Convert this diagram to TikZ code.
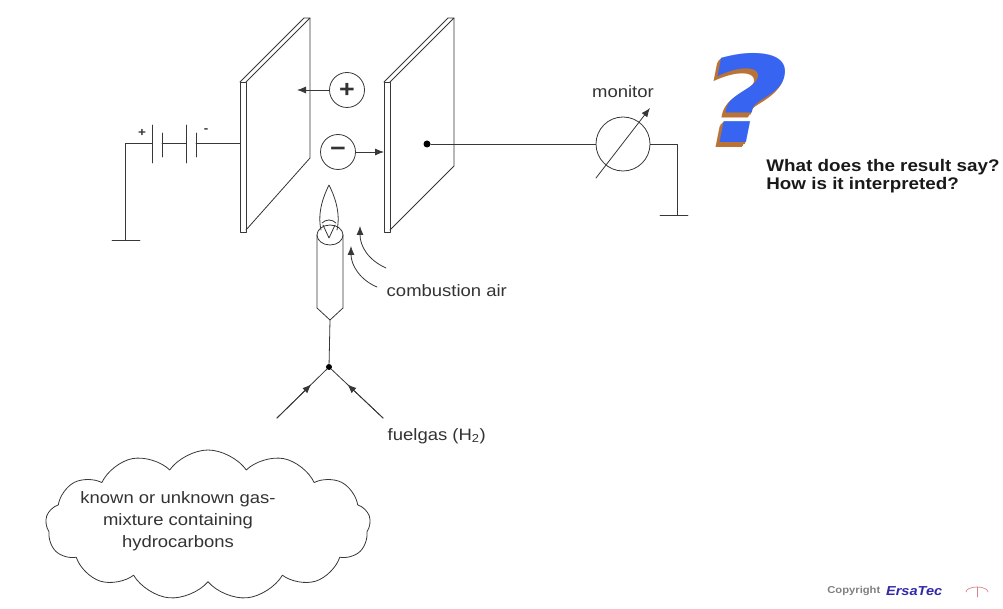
\documentclass[tikz,border=0pt]{standalone}
\usepackage{fontspec}
\setmainfont{Liberation Sans}[FakeStretch=1.12]
\newfontfamily\qfont{DejaVu Sans}[FakeSlant=0.2,FakeStretch=1.25]
\usetikzlibrary{shapes.symbols,calc,arrows.meta}

\definecolor{wire}{RGB}{55,55,55}
\definecolor{qblue}{RGB}{55,100,240}
\definecolor{qbrown}{RGB}{185,115,55}
\definecolor{ersa}{RGB}{50,40,170}
\definecolor{logo}{RGB}{215,130,140}

\tikzset{
  ionball/.style={draw,circle,minimum size=35pt,inner sep=0pt,
    font=\bfseries\fontsize{24}{24}\selectfont},
  dot/.style={circle,fill,inner sep=0pt,minimum size=7pt},
  qmark/.style={inner sep=0pt,font=\qfont\bfseries\fontsize{120}{120}\selectfont}
}

\begin{document}
\begin{tikzpicture}[x=1pt,y=-1pt,line width=.8pt,>={Latex[length=9pt,width=7pt]},
  draw=wire,text=black!80,line cap=round,line join=round,
  font=\fontsize{16.5}{22}\selectfont]
  \useasboundingbox (0,0) rectangle (1003,609);

  % the two plates
  \foreach \dx/\yb in {0/158,144/166} {
    \begin{scope}[shift={(\dx,0)}]
      \draw (240,82) rectangle (246,232);
      \draw (240,82)--(304,18)--(310,18)--(246,82);
      \draw (310,18)--(310,\yb)--(246,230);
    \end{scope}
  }

  % battery and ground
  \coordinate (gndL) at (125,240);
  \coordinate (batL) at (152,143);
  \draw (gndL) |- (batL);
  \draw (112,240)--(140,240);
  \foreach \bx in {152,186} {
    \draw (\bx,125)--(\bx,163);
    \draw (\bx+10,133)--(\bx+10,157);
  }
  \draw (162,143)--(186,143);
  \draw (196,143)--(240,143);
  \node[font=\bfseries\fontsize{12}{12}\selectfont] (bplus) at (142,133) {+};
  \node[font=\bfseries\fontsize{12}{12}\selectfont] (bminus) at (206,131) {-};

  % ions
  \node[ionball] (pos) at (347,90) {+};
  \node[ionball] (neg) at (338,152) {−};
  \coordinate (plateL) at (297,90);
  \coordinate (plateR) at (384,152);
  \draw[->] (pos) -- (plateL);
  \draw[->] (neg) -- (plateR);

  % collector and monitor
  \node[dot] (col) at (427,144) {};
  \node[draw,circle,minimum size=54pt,inner sep=0pt] (mon) at (623,144) {};
  \draw (col) -- (mon);
  \coordinate (gndR) at (677,215);
  \draw (mon.east) -| (gndR);
  \draw (660,215)--(688,215);
  \draw[->] ($(mon)+(-27,34)$) -- ($(mon)+(27,-36)$);
  \node (monlbl) at (623,92) {monitor};

  % burner with flame
  \draw (317,235)--(317,308)--(330,320)--(343,308)--(343,235);
  \draw (330,235) ellipse [x radius=13,y radius=10];
  \draw (321,230) .. controls (317,212) and (324,195) .. (329,185)
    .. controls (334,195) and (341,212) .. (337,230);
  \draw (322,223) .. controls (326,219) and (332,219) .. (336,223);
  \draw (323,225)--(329,238)--(335,225);

  % fuel gas feed
  \coordinate (burner) at (330,320);
  \node[dot,minimum size=6pt] (fg) at (329,367) {};
  \draw (burner) -- (fg);
  \coordinate (inL) at (277,418);
  \coordinate (inR) at (383,418);
  \draw (inL) -- (fg);
  \draw (inR) -- (fg);
  \draw[->] (inL) -- ($(inL)!.66!(fg)$);
  \draw[->] (inR) -- ($(inR)!.66!(fg)$);
  \node[anchor=west] (fuel) at (384,436) {fuelgas (H\textsubscript{2})};

  % combustion air
  \node[anchor=west] (air) at (383,291) {combustion air};
  \coordinate (air1a) at (386,268);
  \coordinate (air1b) at (360,226);
  \coordinate (air2a) at (377,287);
  \coordinate (air2b) at (351,246);
  \draw[->] (air1a) .. controls (368,260) and (360,246) .. (air1b);
  \draw[->] (air2a) .. controls (360,280) and (351,265) .. (air2b);

  % sample gas
  \node[cloud,draw,cloud puffs=13,cloud puff arc=110,aspect=2.1,
    minimum width=325pt,minimum height=150pt,inner sep=0pt] (mix) at (208,525) {};
  \node[align=center] (mixtxt) at (178,521)
    {known or unknown gas-\\mixture containing\\hydrocarbons};

  % question
  \foreach \i in {6,...,1}
    \node[qmark,text=qbrown] (qsh\i) at ($(738,98)+(-\i*0.7,\i*0.8)$) {?};
  \node[qmark,text=qblue] (qm) at (738,98) {?};
  \node[anchor=west,align=left,inner sep=0pt,text=black!90,
    font=\bfseries\fontsize{16.8}{18}\selectfont] (ask) at (766,176)
    {What does the result say?\\How is it interpreted?};

  % copyright line
  \node[anchor=west,inner sep=1pt,text=gray,
    font=\bfseries\fontsize{10}{11}\selectfont] (copy) at (826,591) {Copyright};
  \node[anchor=west,inner sep=1pt,text=ersa,
    font=\bfseries\itshape\fontsize{13}{14}\selectfont] (ersa) at ([xshift=3pt]copy.east) {ErsaTec};
  \draw[logo,line width=.7pt] (966,592) arc (180:360:11 and 5);
  \draw[logo,line width=.7pt] (977,587)--(977,597);
\end{tikzpicture}
\end{document}
